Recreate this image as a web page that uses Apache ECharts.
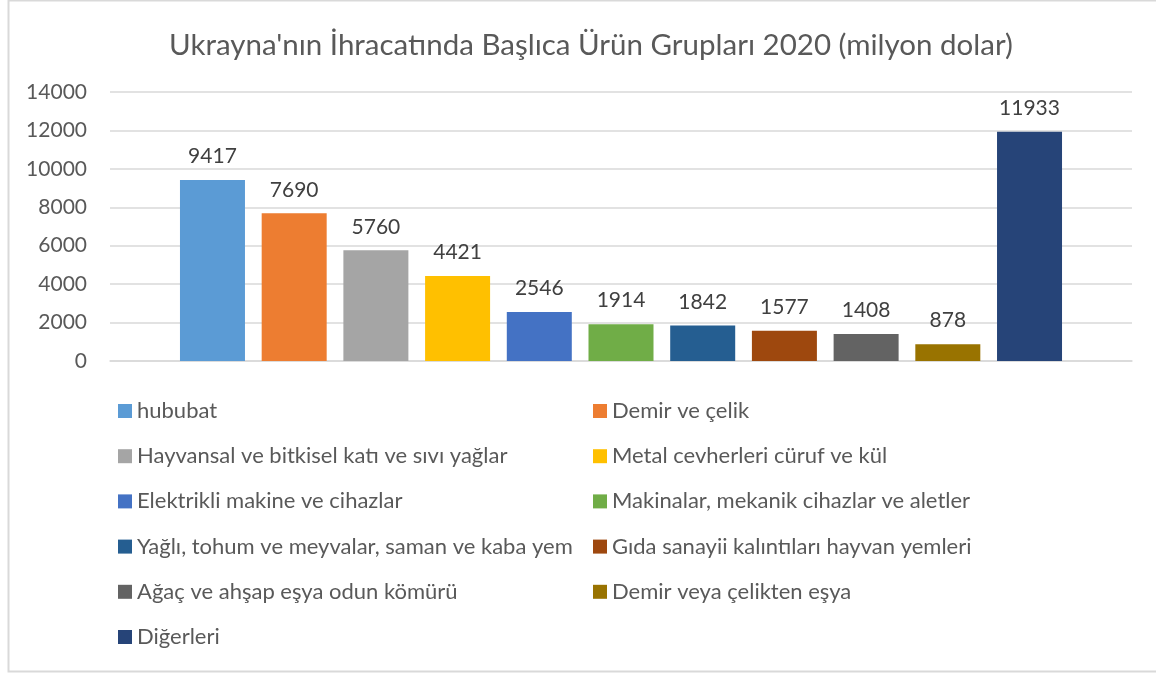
<!DOCTYPE html>
<html>
<head>
<meta charset="utf-8">
<script src="https://cdn.jsdelivr.net/npm/echarts@6/dist/echarts.min.js"></script>
<style>
  html, body { margin: 0; padding: 0; background: #fff; }
  #chart { width: 1156px; height: 675px; }
</style>
</head>
<body>
<div id="chart"></div>
<script>
// ürün grupları ve 2020 ihracat değerleri (milyon dolar)
const groups = [
  'hububat',
  'Demir ve çelik',
  'Hayvansal ve bitkisel katı ve sıvı yağlar',
  'Metal cevherleri cüruf ve kül',
  'Elektrikli makine ve cihazlar',
  'Makinalar, mekanik cihazlar ve aletler',
  'Yağlı, tohum ve meyvalar, saman ve kaba yem',
  'Gıda sanayii kalıntıları hayvan yemleri',
  'Ağaç ve ahşap eşya odun kömürü',
  'Demir veya çelikten eşya',
  'Diğerleri'
];
const values = [9417, 7690, 5760, 4421, 2546, 1914, 1842, 1577, 1408, 878, 11933];
const colors = [
  '#5b9bd5', '#ed7d31', '#a5a5a5', '#ffc000', '#4472c4', '#70ad47',
  '#255e91', '#9e480e', '#636363', '#997300', '#264478'
];
const yTicks = { min: 0, max: 14000, interval: 2000 };

const FONT = 'Lato, "Open Sans", sans-serif';

const chart = echarts.init(document.getElementById('chart'));

// tek kategori, her ürün grubu ayrı seri (Excel tarzı)
const series = groups.map((name, i) => ({
  name,
  type: 'bar',
  data: [values[i]],
  barWidth: 65,
  barGap: '25.7%',
  itemStyle: { color: colors[i] },
  label: {
    show: true,
    position: 'top',
    distance: 13,
    color: '#404040',
    fontSize: 21,
    fontFamily: FONT
  }
}));

// legend iki sütun: çift indeksler solda, tek indeksler sağda
const legendBase = {
  orient: 'vertical',
  top: 395,
  itemWidth: 14,
  itemHeight: 14,
  itemGap: 23.2,
  icon: 'rect',
  textStyle: { color: '#595959', fontSize: 22, lineHeight: 20, fontFamily: FONT }
};

chart.setOption({
  animation: false,
  backgroundColor: '#fff',
  title: {
    text: "Ukrayna'nın İhracatında Başlıca Ürün Grupları 2020 (milyon dolar)",
    left: 586,
    textAlign: 'center',
    top: 25,
    textStyle: { color: '#595959', fontSize: 29.5, fontWeight: 'normal', fontFamily: FONT }
  },
  legend: [
    Object.assign({}, legendBase, { left: 113, data: groups.filter((_, i) => i % 2 === 0) }),
    Object.assign({}, legendBase, { left: 588, data: groups.filter((_, i) => i % 2 === 1) })
  ],
  grid: { left: 110, right: 24, top: 92, bottom: 314, containLabel: false },
  xAxis: {
    type: 'category',
    data: ['2020'],
    axisLine: { lineStyle: { color: '#d9d9d9', width: 1.5 } },
    axisTick: { show: false },
    axisLabel: { show: false }
  },
  yAxis: {
    type: 'value',
    min: yTicks.min,
    max: yTicks.max,
    interval: yTicks.interval,
    axisLine: { show: false },
    axisTick: { show: false },
    axisLabel: {
      color: '#595959', fontSize: 21, fontFamily: FONT, margin: 23,
      formatter: v => String(v)
    },
    splitLine: { lineStyle: { color: '#d9d9d9', width: 1.5 } }
  },
  graphic: [{
    type: 'rect',
    shape: { x: 8.5, y: 0.5, width: 1160, height: 671 },
    style: { fill: 'none', stroke: '#d9d9d9', lineWidth: 2 },
    silent: true
  }],
  series
});
</script>
</body>
</html>
